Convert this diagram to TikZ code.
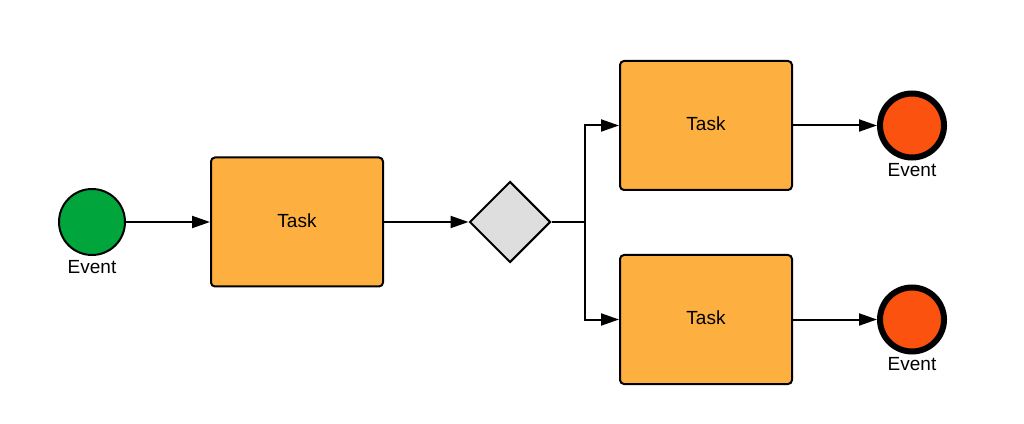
\documentclass[tikz,border=0pt]{standalone}
\usepackage{fontspec}
\setmainfont{Liberation Sans}
\usetikzlibrary{arrows.meta,shapes.geometric}
\definecolor{evgreen}{HTML}{00A53B}
\definecolor{taskorange}{HTML}{FDB040}
\definecolor{gwgray}{HTML}{DEDEDE}
\definecolor{evred}{HTML}{FB520F}
\newcommand{\tasktext}[1]{\raisebox{3pt}{#1}}
\tikzset{
  taskbox/.style={draw=black, line width=2pt, fill=taskorange, rounded corners=4pt,
    minimum width=172pt, minimum height=129pt, inner sep=0pt, font=\fontsize{19}{21}\selectfont},
  startev/.style={circle, draw=black, line width=2pt, fill=evgreen, minimum size=66pt, inner sep=0pt},
  endev/.style={circle, draw=black, line width=6pt, fill=evred, minimum size=64pt, inner sep=0pt},
  gateway/.style={diamond, draw=black, line width=2pt, fill=gwgray, minimum width=81pt, minimum height=81pt, inner sep=0pt, aspect=1},
  evlabel/.style={font=\fontsize{19}{21}\selectfont, inner sep=0pt},
  flow/.style={draw=black, line width=2pt, -{Triangle[length=18pt,width=12pt]}},
}
\begin{document}
\begin{tikzpicture}[x=1pt,y=1pt]
\useasboundingbox (0,0) rectangle (1024,423);
\node[startev] (s) at (92,201) {};
\node[evlabel] (sl) at (92,156) {Event};
\node[taskbox] (t1) at (297,201) {\tasktext{Task}};
\node[gateway] (g) at (510,201) {};
\node[taskbox] (t2) at (706,297.5) {\tasktext{Task}};
\node[taskbox] (t3) at (706,103.5) {\tasktext{Task}};
\node[endev] (e1) at (912,297.5) {};
\node[endev] (e2) at (912,103.5) {};
\node[evlabel] (e1l) at (912,253) {Event};
\node[evlabel] (e2l) at (912,59) {Event};
\coordinate (j) at (585,201);
\draw[flow] (s) -- (t1);
\draw[flow] (t1) -- (g);
\draw[draw=black, line width=2pt] (g.east) -- (j);
\draw[flow] (j) |- (t2.west);
\draw[flow] (j) |- (t3.west);
\draw[flow] (t2) -- (e1);
\draw[flow] (t3) -- (e2);
\end{tikzpicture}
\end{document}
